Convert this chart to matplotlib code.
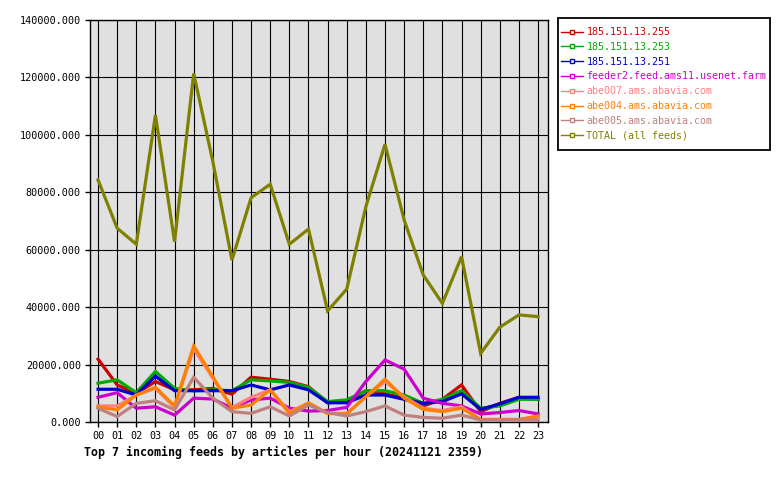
import matplotlib
matplotlib.use("Agg")
import matplotlib.pyplot as plt
from matplotlib.lines import Line2D
from matplotlib.patches import Rectangle
from matplotlib.ticker import FuncFormatter, MultipleLocator

hours = ["00", "01", "02", "03", "04", "05", "06", "07", "08", "09", "10", "11",
         "12", "13", "14", "15", "16", "17", "18", "19", "20", "21", "22", "23"]

feed_255 = [21900, 12900, 10000, 14100, 11200, 11200, 11700, 9700, 15600, 14900, 14100, 12300,
            6700, 7100, 10900, 9800, 8300, 5600, 7900, 12900, 3600, 6500, 8600, 7900]
feed_253 = [13500, 14700, 10200, 17600, 11700, 10900, 11200, 10900, 14700, 14300, 13800, 12100,
            7100, 7700, 10900, 10900, 9400, 6500, 7900, 10900, 4800, 5600, 7900, 7900]
feed_251 = [11400, 11400, 9400, 16000, 10900, 10900, 10900, 10900, 12900, 11200, 12900, 11200,
            6700, 6700, 9400, 9400, 7900, 6500, 7100, 9800, 4400, 6300, 8600, 8600]
feed_feeder2 = [8600, 10200, 4800, 5300, 2400, 8300, 8000, 4800, 7700, 8300, 4800, 3800,
                4000, 5100, 14100, 21600, 18400, 8300, 6500, 5600, 2800, 3300, 4000, 2800]
feed_abe007 = [5600, 5600, 9400, 11700, 5100, 25500, 15300, 5100, 8600, 11200, 3600, 6500,
               3000, 3000, 8800, 14100, 8800, 4800, 4000, 5300, 700, 700, 700, 1600]
feed_abe004 = [5300, 4200, 9400, 12100, 5600, 26500, 15800, 4800, 5900, 11200, 3000, 6700,
               3000, 2800, 8800, 14900, 8300, 4400, 3600, 4800, 900, 900, 900, 2100]
feed_abe005 = [4800, 1900, 6500, 7400, 4200, 15600, 8300, 3600, 3000, 5300, 2100, 5900,
               3300, 2100, 3600, 5600, 2400, 1600, 1300, 2400, 700, 700, 700, 700]
total = [84300, 67500, 61900, 106900, 62800, 121400, 90700, 56400, 78100, 82800, 61900, 67200,
         38700, 46300, 75000, 96700, 70400, 51200, 41300, 57600, 23900, 33000, 37300, 36700]

series_names = ["185.151.13.255", "185.151.13.253", "185.151.13.251",
                "feeder2.feed.ams11.usenet.farm", "abe007.ams.abavia.com",
                "abe004.ams.abavia.com", "abe005.ams.abavia.com", "TOTAL (all feeds)"]
series_values = [feed_255, feed_253, feed_251, feed_feeder2, feed_abe007,
                 feed_abe004, feed_abe005, total]
series_colors = ["#CC0000", "#00AA00", "#0000CC", "#CC00CC", "#FF8080",
                 "#FF8000", "#C08080", "#808000"]

title = "Top 7 incoming feeds by articles per hour (20241121 2359)"

mono = "DejaVu Sans Mono"
W, H = 780, 480
fig = plt.figure(figsize=(7.8, 4.8), dpi=100)
ax = fig.add_axes([90 / W, 1 - 422 / H, 458 / W, 402 / H])
ax.set_facecolor("#E0E0E0")

x = list(range(len(hours)))
for vals, col in zip(series_values, series_colors):
    ax.plot(x, vals, color=col, linewidth=2.3, solid_joinstyle="miter", zorder=3)

ax.set_xlim(-0.42, 23.52)
ax.set_ylim(0, 140000)
ax.set_xticks(x)
ax.set_xticklabels(hours, fontfamily=mono, fontsize=7.3)
ax.yaxis.set_major_locator(MultipleLocator(20000))
ax.yaxis.set_major_formatter(FuncFormatter(lambda v, p: f"{v:.3f}"))
for lbl in ax.get_yticklabels():
    lbl.set_fontfamily(mono)
    lbl.set_fontsize(7.3)
ax.tick_params(axis="both", direction="out", length=3.6, width=1, color="black", pad=3)
ax.grid(True, color="black", linewidth=0.8, zorder=1)
ax.set_axisbelow(True)
for s in ax.spines.values():
    s.set_color("black")
    s.set_linewidth(1)

# legend box
fig.patches.append(Rectangle((558 / W, 1 - 150 / H), (770 - 558) / W, (150 - 18) / H,
                             transform=fig.transFigure, facecolor="white",
                             edgecolor="black", linewidth=1.3, zorder=0))

handles = [Line2D([0], [0], color=c, linewidth=1, marker="s", markersize=2.5,
                  markerfacecolor="white", markeredgecolor=c) for c in series_colors]
leg = fig.legend(handles, series_names, loc="upper left",
                 bbox_to_anchor=(561 / W, 1 - 27 / H),
                 prop={"family": mono, "size": 7.2}, frameon=False,
                 borderpad=0, handlelength=2.2, handletextpad=0.35, labelspacing=0.48,
                 borderaxespad=0)
for txt, c in zip(leg.get_texts(), series_colors):
    txt.set_color(c)

fig.text(84 / W, 1 - 452 / H, title, fontfamily=mono, fontweight="bold",
         fontsize=8.4, va="center", ha="left")

fig.savefig("out.png", dpi=100, facecolor="white")
